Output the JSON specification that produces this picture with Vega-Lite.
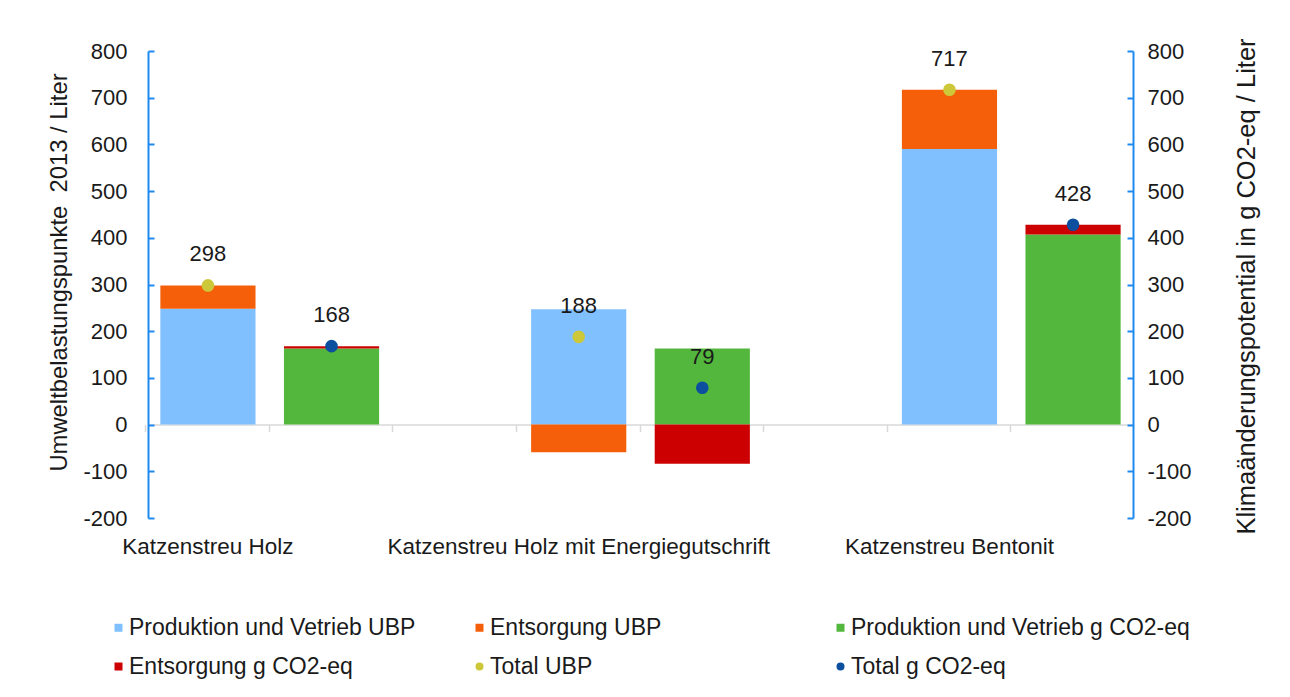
{
  "$schema": "https://vega.github.io/schema/vega-lite/v6.json",
  "width": 985,
  "height": 467,
  "autosize": {"type": "none"},
  "padding": {"left": 148, "top": 51, "right": 157, "bottom": 179},
  "background": "white",
  "config": {
    "font": "Liberation Sans",
    "view": {"stroke": null},
    "axis": {"grid": false},
    "legend": {
      "orient": "none",
      "direction": "horizontal",
      "legendX": -41,
      "legendY": 565,
      "columns": 3,
      "gridAlign": "all",
      "columnPadding": 0,
      "rowPadding": 15,
      "labelFontSize": 23,
      "labelColor": "#1A1A1A",
      "labelFont": "Liberation Sans",
      "labelLimit": 600,
      "labelOffset": -1,
      "symbolSize": 64,
      "symbolStrokeWidth": 0,
      "symbolOpacity": 1,
      "padding": 0
    }
  },
  "data": {
    "values": [
      {"slot": "Katzenstreu Holz", "series": "Produktion und Vetrieb UBP", "ord": 0, "value": 248},
      {"slot": "Katzenstreu Holz", "series": "Entsorgung UBP", "ord": 1, "value": 50},
      {"slot": "Katzenstreu Holz", "series": "Total UBP", "ord": 2, "value": 298},
      {"slot": "Holz CO2", "series": "Produktion und Vetrieb g CO2-eq", "ord": 0, "value": 163},
      {"slot": "Holz CO2", "series": "Entsorgung g CO2-eq", "ord": 1, "value": 5},
      {"slot": "Holz CO2", "series": "Total g CO2-eq", "ord": 2, "value": 168},
      {"slot": "Katzenstreu Holz mit Energiegutschrift", "series": "Produktion und Vetrieb UBP", "ord": 0, "value": 247},
      {"slot": "Katzenstreu Holz mit Energiegutschrift", "series": "Entsorgung UBP", "ord": 1, "value": -59},
      {"slot": "Katzenstreu Holz mit Energiegutschrift", "series": "Total UBP", "ord": 2, "value": 188},
      {"slot": "Energiegutschrift CO2", "series": "Produktion und Vetrieb g CO2-eq", "ord": 0, "value": 163},
      {"slot": "Energiegutschrift CO2", "series": "Entsorgung g CO2-eq", "ord": 1, "value": -84},
      {"slot": "Energiegutschrift CO2", "series": "Total g CO2-eq", "ord": 2, "value": 79},
      {"slot": "Katzenstreu Bentonit", "series": "Produktion und Vetrieb UBP", "ord": 0, "value": 590},
      {"slot": "Katzenstreu Bentonit", "series": "Entsorgung UBP", "ord": 1, "value": 127},
      {"slot": "Katzenstreu Bentonit", "series": "Total UBP", "ord": 2, "value": 717},
      {"slot": "Bentonit CO2", "series": "Produktion und Vetrieb g CO2-eq", "ord": 0, "value": 407},
      {"slot": "Bentonit CO2", "series": "Entsorgung g CO2-eq", "ord": 1, "value": 21},
      {"slot": "Bentonit CO2", "series": "Total g CO2-eq", "ord": 2, "value": 428}
    ]
  },
  "encoding": {
    "x": {
      "field": "slot",
      "type": "nominal",
      "title": null,
      "sort": null,
      "scale": {
        "domain": ["Katzenstreu Holz", "Holz CO2", "gap1", "Katzenstreu Holz mit Energiegutschrift", "Energiegutschrift CO2", "gap2", "Katzenstreu Bentonit", "Bentonit CO2"],
        "paddingInner": 0.23,
        "paddingOuter": 0.1
      },
      "axis": {
        "offset": -93.4,
        "domainColor": "#D9D9D9",
        "domainWidth": 1.5,
        "tickColor": "#D9D9D9",
        "tickWidth": 1.5,
        "tickSize": 7,
        "bandPosition": -0.153,
        "labelAngle": 0,
        "labelFontSize": 22.5,
        "labelColor": "#1A1A1A",
        "labelPadding": 104,
        "labelOffset": 0,
        "labelOverlap": false,
        "labelLimit": 600,
        "labelFlush": false,
        "labelBound": false,
        "labelExpr": "indexof(['Katzenstreu Holz','Katzenstreu Holz mit Energiegutschrift','Katzenstreu Bentonit'], datum.value) >= 0 ? datum.value : ''"
      }
    }
  },
  "layer": [
    {
      "transform": [{"filter": "datum.ord < 2"}],
      "mark": {"type": "bar"},
      "encoding": {
        "y": {
          "field": "value",
          "type": "quantitative",
          "stack": "zero",
          "scale": {"domain": [-200, 800], "nice": false},
          "axis": {
            "orient": "left",
            "title": "Umweltbelastungspunkte\u00a0 2013 / Liter",
            "values": [-200, -100, 0, 100, 200, 300, 400, 500, 600, 700, 800],
            "labelExpr": "'' + datum.value",
            "domainColor": "#1E8AF0",
            "domainWidth": 2,
            "tickColor": "#1E8AF0",
            "tickWidth": 2,
            "tickSize": -6,
            "labelPadding": 27,
            "labelFontSize": 22,
            "labelColor": "#1A1A1A",
            "titleFontSize": 23.8,
            "titleFontWeight": "normal",
            "titleColor": "#1A1A1A",
            "titleX": -89,
            "titleY": 221,
            "titleAngle": 270,
            "titleBaseline": "middle",
            "titleAlign": "center"
          }
        },
        "color": {
          "field": "series",
          "type": "nominal",
          "scale": {
            "domain": ["Produktion und Vetrieb UBP", "Entsorgung UBP", "Produktion und Vetrieb g CO2-eq", "Entsorgung g CO2-eq", "Total UBP", "Total g CO2-eq"],
            "range": ["#80C0FF", "#F55F0A", "#52B73C", "#CC0000", "#CDC83A", "#0B4F9E"]
          },
          "legend": {"title": null}
        },
        "order": {"field": "ord", "type": "quantitative"}
      }
    },
    {
      "transform": [{"filter": "datum.ord == 2"}],
      "mark": {"type": "point", "filled": true, "opacity": 1, "size": 160},
      "encoding": {
        "y": {
          "field": "value",
          "type": "quantitative",
          "scale": {"domain": [-200, 800], "nice": false},
          "axis": {
            "orient": "right",
            "title": "Klimaänderungspotential in g CO2-eq / Liter",
            "values": [-200, -100, 0, 100, 200, 300, 400, 500, 600, 700, 800],
            "labelExpr": "'' + datum.value",
            "domainColor": "#1E8AF0",
            "domainWidth": 2,
            "tickColor": "#1E8AF0",
            "tickWidth": 2,
            "tickSize": -6,
            "labelPadding": 20,
            "labelFontSize": 22,
            "labelColor": "#1A1A1A",
            "titleFontSize": 25.5,
            "titleFontWeight": "normal",
            "titleColor": "#1A1A1A",
            "titleX": 113,
            "titleY": 235,
            "titleAngle": 270,
            "titleBaseline": "middle",
            "titleAlign": "center"
          }
        },
        "color": {
          "field": "series",
          "type": "nominal",
          "scale": {
            "domain": ["Produktion und Vetrieb UBP", "Entsorgung UBP", "Produktion und Vetrieb g CO2-eq", "Entsorgung g CO2-eq", "Total UBP", "Total g CO2-eq"],
            "range": ["#80C0FF", "#F55F0A", "#52B73C", "#CC0000", "#CDC83A", "#0B4F9E"]
          },
          "legend": {"title": null}
        },
        "shape": {
          "field": "series",
          "type": "nominal",
          "scale": {
            "domain": ["Produktion und Vetrieb UBP", "Entsorgung UBP", "Produktion und Vetrieb g CO2-eq", "Entsorgung g CO2-eq", "Total UBP", "Total g CO2-eq"],
            "range": ["square", "square", "square", "square", "circle", "circle"]
          },
          "legend": {"title": null}
        }
      }
    },
    {
      "transform": [{"filter": "datum.ord == 2"}],
      "mark": {"type": "text", "dy": -31, "fontSize": 22, "color": "#1A1A1A", "baseline": "middle"},
      "encoding": {
        "y": {
          "field": "value",
          "type": "quantitative",
          "scale": {"domain": [-200, 800], "nice": false},
          "axis": null
        },
        "text": {"field": "value", "type": "quantitative"}
      }
    }
  ],
  "resolve": {"scale": {"y": "independent"}}
}
